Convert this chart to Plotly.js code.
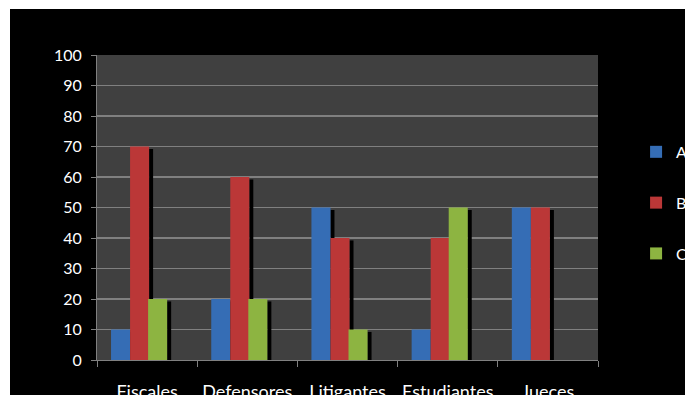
<!DOCTYPE html>
<html>
<head>
<meta charset="utf-8">
<script src="https://cdn.plot.ly/plotly-3.0.1.min.js"></script>
<style>
  html, body { margin: 0; padding: 0; background: #ffffff; }
  #chart { position: absolute; left: 10px; top: 9px; width: 675px; height: 386px; background: #000000; overflow: hidden; }
</style>
</head>
<body>
<div id="chart"></div>
<script>
// Survey groups and the three answer series
const categories = ['Fiscales', 'Defensores', 'Litigantes', 'Estudiantes', 'Jueces'];
const seriesNames = ['A', 'B', 'C'];
const valuesA = [10, 20, 50, 10, 50];
const valuesB = [70, 60, 40, 40, 50];
const valuesC = [20, 20, 10, 50, 0];
const yTicks = [0, 10, 20, 30, 40, 50, 60, 70, 80, 90, 100];

const seriesValues = [valuesA, valuesB, valuesC];
const colors = ['#356db5', '#bb3737', '#8db441'];
const barWidth = 0.19;
const offsets = [-0.36, -0.17, 0.01];

const traces = seriesValues.map((vals, s) => ({
  type: 'bar',
  name: seriesNames[s],
  legendgroup: seriesNames[s],
  x: categories,
  y: vals,
  width: barWidth,
  offset: offsets[s],
  marker: { color: colors[s], line: { width: 0 } },
  hoverinfo: 'x+y+name'
}));

// Drop shadows to the right of each bar, derived from the bar values
const shadows = [];
seriesValues.forEach((vals, s) => {
  vals.forEach((v, i) => {
    if (v <= 0) return;
    const x0 = i + offsets[s] + barWidth;
    shadows.push({
      type: 'rect', layer: 'between', xref: 'x', yref: 'y',
      x0: x0, x1: x0 + 0.04, y0: 0, y1: v - 0.8,
      fillcolor: '#000000', line: { width: 0 }
    });
  });
});

const axisGray = '#808080';
const layout = {
  width: 675, height: 386,
  margin: { l: 87, r: 87, t: 46, b: 35, autoexpand: false },
  paper_bgcolor: '#000000',
  plot_bgcolor: '#404040',
  font: { family: 'Lato, "Open Sans", sans-serif', color: '#ffffff', size: 16 },
  barmode: 'group',
  showlegend: true,
  legend: {
    x: 1.076, xanchor: 'left', y: 0.515, yanchor: 'middle',
    bgcolor: 'rgba(0,0,0,0)', font: { size: 16, color: '#ffffff' },
    traceorder: 'grouped', tracegroupgap: 27
  },
  xaxis: {
    type: 'category',
    range: [-0.5, categories.length - 0.5],
    showgrid: false, zeroline: false,
    showline: true, linecolor: axisGray, linewidth: 1,
    ticks: 'outside', tickson: 'boundaries', ticklen: 6, tickcolor: axisGray, tickwidth: 1,
    tickangle: 0,
    ticklabelstandoff: 15,
    tickfont: { size: 18, color: '#ffffff' },
    fixedrange: true
  },
  yaxis: {
    range: [0, 100],
    tickvals: yTicks,
    ticktext: yTicks.map(String),
    showgrid: true, gridcolor: axisGray, gridwidth: 1.5,
    zeroline: false,
    showline: true, linecolor: axisGray, linewidth: 1,
    ticks: 'outside', ticklen: 5, tickcolor: axisGray, tickwidth: 1,
    ticklabelstandoff: 6,
    tickfont: { size: 16, color: '#ffffff' },
    fixedrange: true
  },
  shapes: shadows
};

Plotly.newPlot('chart', traces, layout, { displayModeBar: false, staticPlot: true });
</script>
</body>
</html>
